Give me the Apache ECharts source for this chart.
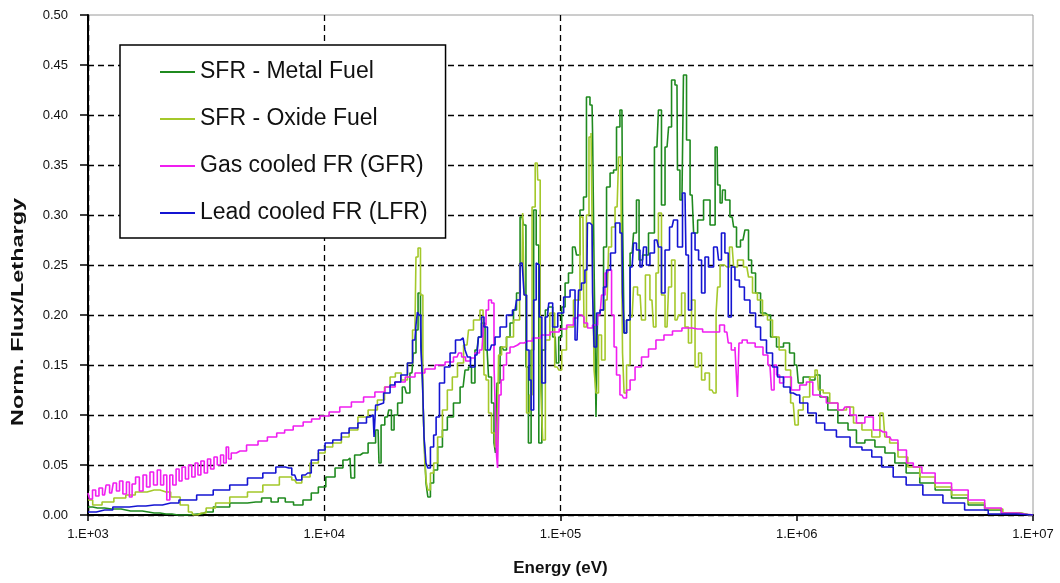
<!DOCTYPE html>
<html>
<head>
<meta charset="utf-8">
<script src="https://cdn.jsdelivr.net/npm/echarts@6/dist/echarts.min.js"></script>
<style>
html,body{margin:0;padding:0;background:#fff;}
#chart{width:1060px;height:583px;}
</style>
</head>
<body>
<div id="chart"></div>
<script>
// ---- data (energy in eV, normalized flux per lethargy) ----
const seriesNames = ['SFR - Metal Fuel', 'SFR - Oxide Fuel', 'Gas cooled FR (GFR)', 'Lead cooled FR (LFR)'];
const xTickLabels = ['1.E+03', '1.E+04', '1.E+05', '1.E+06', '1.E+07'];
const yTickLabels = ['0.00','0.05','0.10','0.15','0.20','0.25','0.30','0.35','0.40','0.45','0.50'];
const xTitle = 'Energy (eV)';
const yTitle = 'Norm. Flux/Lethargy';

const sfrMetal = [
[1000,0.008],[1096,0.007],[1259,0.006],[1514,0.004],[1905,0.002],[2138,0.001],[2400,0],[2900,0.001],[3162,0.003],[3631,0.008],
[4365,0.012],[5129,0.013],[5754,0.017],[6166,0.013],[6607,0.017],[7079,0.013],[7762,0.01],[8511,0.015],[9120,0.022],[9772,0.028],
[10550,0.038],[11700,0.047],[12300,0.055],[12850,0.057],[13100,0.037],[13800,0.06],[14600,0.062],[16100,0.072],[16900,0.085],[17200,0.052],
[17600,0.09],[18500,0.098],[19000,0.105],[19500,0.085],[20000,0.1],[20900,0.112],[21900,0.128],[22600,0.122],[23500,0.142],[24200,0.162],
[24700,0.185],[25200,0.222],[25900,0.19],[26200,0.132],[26700,0.078],[27200,0.032],[27700,0.018],[28600,0.032],[29500,0.045],[30900,0.068],
[32400,0.085],[34000,0.098],[36500,0.112],[38700,0.128],[40200,0.145],[41400,0.148],[42600,0.132],[44300,0.165],[45600,0.178],[47000,0.192],
[48900,0.165],[50300,0.138],[51800,0.112],[52800,0.072],[53300,0.062],[54400,0.132],[56600,0.168],[58200,0.165],[60000,0.178],[62300,0.192],
[64200,0.205],[66100,0.222],[68800,0.298],[70800,0.29],[72000,0.148],[74300,0.072],[75900,0.165],[78100,0.305],[79700,0.27],[82200,0.072],
[84600,0.165],[88000,0.205],[90400,0.208],[95000,0.178],[96800,0.152],[99800,0.178],[102600,0.208],[106600,0.232],[109600,0.242],[115200,0.268],
[118600,0.26],[123300,0.305],[127000,0.318],[130600,0.418],[136000,0.41],[137400,0.382],[140000,0.25],[142700,0.098],[144300,0.2],[150000,0.205],
[154300,0.268],[159000,0.328],[165300,0.342],[170300,0.345],[175000,0.388],[182000,0.405],[184100,0.3],[187600,0.182],[193200,0.195],[201000,0.262],
[206600,0.282],[212800,0.315],[217300,0.255],[228000,0.26],[243800,0.282],[255900,0.368],[263600,0.405],[271600,0.31],[282500,0.368],[291100,0.388],
[299300,0.435],[311200,0.43],[314100,0.345],[326600,0.315],[336500,0.44],[346700,0.375],[360600,0.32],[371500,0.282],[389900,0.295],[416900,0.315],
[442600,0.29],[460300,0.368],[464500,0.33],[483100,0.312],[487000,0.325],[510000,0.315],[533000,0.298],[548000,0.288],[564000,0.268],[592000,0.275],
[615000,0.285],[635000,0.255],[653000,0.242],[686000,0.222],[720000,0.202],[756000,0.2],[794000,0.178],[849000,0.168],[910000,0.172],[955000,0.162],
[1000000,0.15],[1030000,0.132],[1100000,0.138],[1170000,0.135],[1220000,0.14],[1290000,0.118],[1420000,0.105],[1570000,0.092],[1730000,0.085],[1850000,0.072],
[2040000,0.075],[2250000,0.068],[2480000,0.062],[2730000,0.052],[3090000,0.042],[3560000,0.032],[4170000,0.025],[4900000,0.017],[5770000,0.01],[6760000,0.005],
[7980000,0.002],[9700000,0],[10000000,0]
];

const sfrOxide = [
[1000,0.015],[1096,0.01],[1200,0.013],[1380,0.017],[1514,0.02],[1660,0.023],[1905,0.025],[2138,0.023],[2344,0.018],[2570,0.01],
[2754,0.003],[2818,0],[3020,0.002],[3311,0.007],[3631,0.012],[4365,0.018],[5129,0.023],[5888,0.03],[7079,0.038],[7500,0.035],
[7762,0.032],[8318,0.038],[9120,0.052],[9772,0.062],[10400,0.068],[11350,0.072],[12300,0.078],[13200,0.085],[14600,0.098],[16100,0.105],
[17500,0.115],[18500,0.128],[19500,0.138],[20500,0.142],[21900,0.135],[23100,0.152],[24200,0.185],[24700,0.258],[25200,0.267],[25900,0.22],
[26400,0.118],[26900,0.052],[27200,0.032],[27700,0.025],[28600,0.042],[29500,0.052],[30900,0.078],[32400,0.105],[34000,0.125],[35700,0.138],
[37600,0.152],[40200,0.17],[41400,0.185],[44300,0.195],[47000,0.205],[47900,0.14],[48900,0.135],[50300,0.102],[51800,0.082],[53900,0.068],
[55500,0.16],[57100,0.168],[61100,0.178],[65500,0.195],[68800,0.252],[69500,0.302],[70800,0.22],[72900,0.102],[75000,0.12],[76600,0.308],
[79700,0.352],[80500,0.335],[83600,0.14],[84600,0.075],[88000,0.175],[92300,0.202],[96800,0.148],[99800,0.145],[102600,0.165],[109600,0.188],
[117500,0.215],[124400,0.298],[127000,0.188],[130600,0.3],[133400,0.378],[136000,0.382],[137400,0.25],[140000,0.145],[142700,0.122],[147000,0.18],
[151400,0.155],[157500,0.215],[162200,0.268],[166800,0.288],[173600,0.308],[178800,0.358],[182000,0.32],[184100,0.162],[187600,0.122],[193200,0.15],
[201000,0.198],[206600,0.228],[217300,0.22],[223300,0.195],[234400,0.24],[243800,0.215],[251200,0.188],[255900,0.242],[263600,0.302],[271600,0.22],
[282500,0.188],[291100,0.228],[299300,0.255],[311200,0.195],[320600,0.2],[330300,0.222],[342800,0.188],[353200,0.172],[364000,0.215],[378400,0.148],
[389900,0.162],[401000,0.135],[416900,0.142],[437500,0.125],[450800,0.122],[460300,0.202],[464500,0.228],[483100,0.25],[506000,0.248],[533000,0.268],
[548000,0.248],[575000,0.255],[615000,0.248],[635000,0.238],[665000,0.222],[699000,0.215],[734000,0.2],[770000,0.195],[810000,0.178],[875000,0.165],
[919000,0.145],[966000,0.112],[1000000,0.09],[1030000,0.105],[1100000,0.118],[1170000,0.138],[1220000,0.145],[1250000,0.125],[1340000,0.122],[1420000,0.112],
[1570000,0.105],[1680000,0.108],[1800000,0.092],[1980000,0.085],[2180000,0.078],[2320000,0.102],[2400000,0.078],[2550000,0.072],[2820000,0.058],[3090000,0.048],
[3560000,0.038],[4170000,0.028],[4900000,0.02],[5770000,0.012],[6760000,0.006],[8220000,0.002],[9700000,0],[10000000,0]
];

const gfr = [
[1000,0.022],[1030,0.016],[1060,0.025],[1096,0.019],[1130,0.027],[1175,0.02],[1210,0.03],[1259,0.022],[1300,0.032],[1340,0.024],
[1380,0.034],[1430,0.021],[1480,0.033],[1514,0.018],[1560,0.031],[1620,0.038],[1680,0.024],[1740,0.04],[1800,0.028],[1860,0.043],
[1930,0.03],[2000,0.045],[2060,0.03],[2120,0.04],[2190,0.015],[2250,0.04],[2320,0.03],[2400,0.046],[2460,0.034],[2540,0.048],
[2630,0.036],[2700,0.05],[2800,0.038],[2880,0.052],[2960,0.04],[3050,0.054],[3160,0.042],[3250,0.056],[3360,0.046],[3470,0.058],
[3580,0.05],[3700,0.06],[3800,0.052],[3890,0.068],[3980,0.056],[4100,0.062],[4400,0.064],[5000,0.07],[5500,0.074],[6000,0.078],
[6600,0.082],[7000,0.085],[7800,0.089],[8500,0.093],[9200,0.096],[10000,0.099],[11000,0.103],[12300,0.108],[13800,0.113],[15600,0.118],
[17200,0.123],[19000,0.128],[21000,0.133],[23100,0.138],[25400,0.142],[28000,0.146],[31000,0.15],[34000,0.153],[36500,0.158],[37600,0.162],
[38700,0.158],[40600,0.154],[42600,0.157],[44300,0.162],[46500,0.165],[47900,0.19],[48900,0.205],[50300,0.215],[51800,0.212],[52800,0.15],
[53300,0.1],[53900,0.06],[54400,0.047],[55500,0.12],[56600,0.135],[58200,0.15],[60000,0.162],[62300,0.168],[64200,0.17],[67500,0.172],
[72900,0.174],[79700,0.177],[86000,0.18],[95000,0.183],[102600,0.186],[110000,0.19],[117500,0.197],[121000,0.2],[124400,0.198],[127000,0.192],
[133400,0.187],[140000,0.19],[147000,0.2],[151400,0.22],[157500,0.242],[162200,0.245],[166800,0.2],[170300,0.168],[175000,0.14],[182000,0.12],
[187600,0.117],[193200,0.125],[201000,0.135],[212800,0.148],[228000,0.158],[243800,0.166],[263600,0.175],[285100,0.18],[311200,0.184],[342800,0.187],
[380000,0.186],[420000,0.183],[460300,0.183],[483100,0.19],[506000,0.183],[520000,0.172],[537000,0.165],[558000,0.168],[564000,0.118],[575000,0.172],
[600000,0.175],[635000,0.172],[700000,0.168],[740000,0.16],[770000,0.15],[794000,0.125],[810000,0.15],[833000,0.14],[860000,0.132],[900000,0.138],
[1000000,0.125],[1060000,0.13],[1140000,0.133],[1200000,0.12],[1290000,0.118],[1380000,0.112],[1420000,0.112],[1570000,0.105],[1630000,0.108],[1730000,0.1],
[1850000,0.092],[2040000,0.098],[2180000,0.085],[2320000,0.083],[2480000,0.078],[2550000,0.075],[2820000,0.065],[3010000,0.052],[3220000,0.048],[3560000,0.042],
[4170000,0.032],[4900000,0.025],[5770000,0.015],[6760000,0.007],[7980000,0.002],[9420000,0.0005],[10000000,0]
];

const lfr = [
[1000,0.003],[1175,0.005],[1380,0.008],[1622,0.009],[1905,0.01],[2239,0.012],[2630,0.015],[3162,0.02],[3631,0.025],[4365,0.03],
[5129,0.037],[5888,0.042],[6607,0.048],[7079,0.047],[7500,0.04],[7762,0.035],[8318,0.04],[8511,0.042],[9120,0.055],[9772,0.065],
[10400,0.072],[11350,0.075],[12300,0.082],[13200,0.087],[14600,0.092],[15600,0.098],[16100,0.1],[16400,0.078],[16600,0.11],[17200,0.112],
[18500,0.122],[19500,0.13],[20300,0.133],[21900,0.14],[23100,0.152],[24200,0.175],[24700,0.19],[24900,0.203],[25400,0.2],[25900,0.168],
[26200,0.135],[26700,0.078],[27200,0.052],[27700,0.047],[28600,0.068],[29500,0.08],[30000,0.098],[31500,0.132],[33100,0.148],[35100,0.162],
[36800,0.175],[38700,0.177],[40200,0.165],[40600,0.158],[42600,0.148],[44300,0.16],[45600,0.178],[47000,0.198],[47900,0.188],[50300,0.165],
[51800,0.17],[53900,0.178],[57100,0.188],[61100,0.2],[64200,0.205],[66100,0.215],[68800,0.252],[69500,0.25],[70800,0.22],[72900,0.165],
[74300,0.135],[75900,0.105],[78100,0.215],[79700,0.252],[80500,0.25],[82200,0.198],[84600,0.132],[88000,0.198],[90400,0.212],[95000,0.188],
[99800,0.202],[106600,0.218],[113000,0.225],[117500,0.175],[121000,0.225],[124400,0.232],[129400,0.245],[130600,0.292],[136000,0.29],[137400,0.222],
[140000,0.168],[144300,0.202],[150000,0.205],[154300,0.228],[159000,0.245],[166800,0.262],[175000,0.292],[182000,0.282],[184100,0.222],[187600,0.182],
[193200,0.195],[201000,0.248],[206600,0.272],[212800,0.265],[221300,0.248],[228000,0.268],[234400,0.25],[243800,0.262],[255900,0.275],[263600,0.268],
[271600,0.222],[282500,0.265],[296500,0.288],[305500,0.295],[320600,0.268],[336500,0.322],[342800,0.26],[353200,0.205],[364000,0.282],[378400,0.265],
[389900,0.255],[401000,0.222],[416900,0.258],[429500,0.248],[460300,0.268],[473200,0.255],[487000,0.282],[506000,0.262],[520000,0.198],[537000,0.248],
[558000,0.235],[586000,0.228],[615000,0.215],[653000,0.202],[686000,0.188],[720000,0.175],[770000,0.162],[810000,0.148],[849000,0.138],[910000,0.128],
[966000,0.122],[1000000,0.12],[1060000,0.112],[1170000,0.102],[1250000,0.092],[1380000,0.085],[1570000,0.078],[1800000,0.068],[1980000,0.065],[2180000,0.058],
[2400000,0.048],[2730000,0.038],[3090000,0.03],[3780000,0.02],[4570000,0.012],[5770000,0.005],[7240000,0.001],[10000000,0]
];

const seriesData = [sfrMetal, sfrOxide, gfr, lfr];
const seriesColors = ['#1f8a1f', '#a4c82a', '#f01ef0', '#1414d2'];

const FONT = "'Liberation Sans', Arial, sans-serif";
const chart = echarts.init(document.getElementById('chart'), null, {renderer: 'canvas'});

const option = {
  animation: false,
  backgroundColor: '#fff',
  grid: {left: 88, right: 27, top: 15, bottom: 68, show: true, borderColor: '#9a9a9a', borderWidth: 1, backgroundColor: 'transparent'},
  graphic: [{
    type: 'text', x: 18, y: 312, rotation: Math.PI / 2, scaleX: 1.38, scaleY: 1,
    style: {text: yTitle, fontFamily: FONT, fontSize: 17, fontWeight: 'bold', fill: '#111',
      align: 'center', verticalAlign: 'middle'}
  }],
  legend: {
    orient: 'vertical', left: 120, top: 45,
    padding: [15, 18, 13, 40],
    itemGap: 23, itemWidth: 35, itemHeight: 2, itemTextGap: 5,
    icon: 'rect',
    borderColor: '#000', borderWidth: 1.5, backgroundColor: '#fff',
    textStyle: {fontFamily: FONT, fontSize: 23, color: '#111', lineHeight: 24},
    data: seriesNames
  },
  xAxis: {
    type: 'log', logBase: 10, min: 1000, max: 10000000,
    name: xTitle, nameLocation: 'middle', nameGap: 45,
    nameTextStyle: {fontFamily: FONT, fontSize: 17, fontWeight: 'bold', color: '#111'},
    axisLine: {show: true, onZero: false, lineStyle: {color: '#000', width: 2}},
    axisTick: {show: true, length: 6, lineStyle: {color: '#000', width: 1.5}},
    minorTick: {show: false},
    axisLabel: {fontFamily: FONT, fontSize: 13, color: '#111', margin: 13,
      formatter: v => xTickLabels[Math.round(Math.log10(v)) - 3] || ''},
    splitLine: {show: true, showMaxLine: false,
      lineStyle: {color: ['#000','#000','#000','#000','transparent'], type: [6, 4], width: 1.3}}
  },
  yAxis: {
    type: 'value', min: 0, max: 0.5, interval: 0.05,
    axisLine: {show: true, lineStyle: {color: '#000', width: 2}},
    axisTick: {show: true, length: 8, lineStyle: {color: '#000', width: 1.5}},
    axisLabel: {fontFamily: FONT, fontSize: 13, color: '#111', margin: 20,
      formatter: v => yTickLabels[Math.round(v / 0.05)]},
    splitLine: {show: true, showMaxLine: false,
      lineStyle: {color: ['#000','#000','#000','#000','#000','#000','#000','#000','#000','#000','transparent'], type: [6, 4], width: 1.3}}
  },
  series: seriesNames.map((name, i) => ({
    name: name,
    type: 'line',
    step: 'middle',
    symbol: 'none',
    color: seriesColors[i],
    lineStyle: {color: seriesColors[i], width: 1.6},
    data: seriesData[i],
    z: 2 + i
  }))
};
chart.setOption(option);
</script>
</body>
</html>
